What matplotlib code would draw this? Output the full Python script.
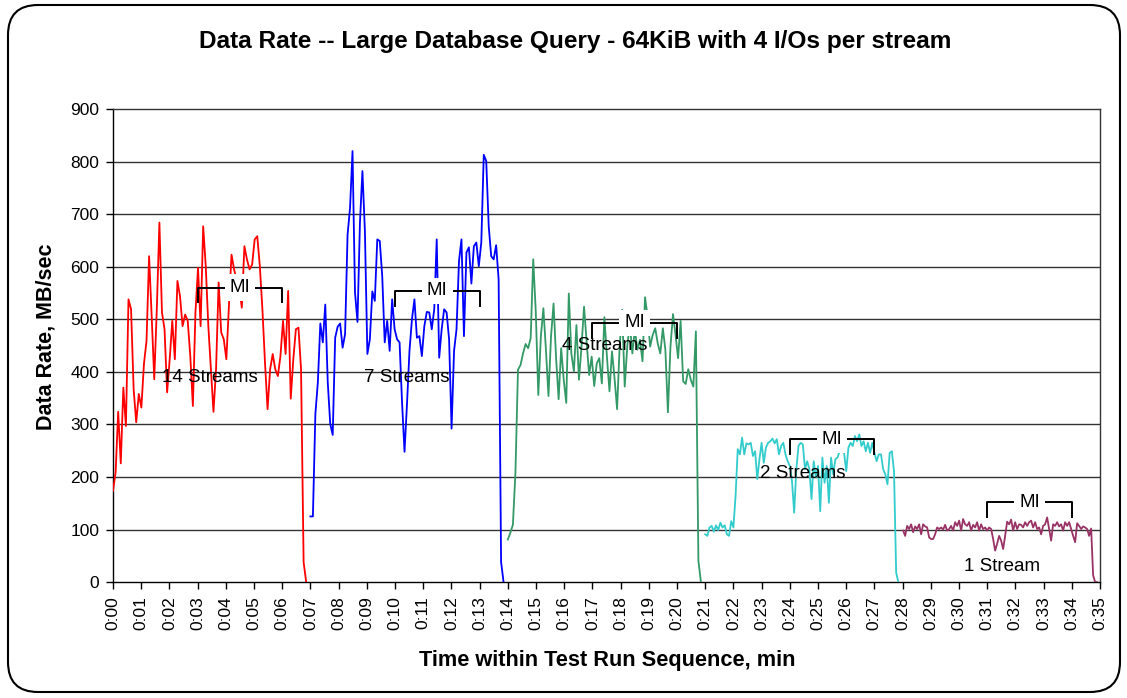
import numpy as np
import matplotlib.pyplot as plt
from matplotlib.patches import FancyBboxPatch

plt.rcParams['font.family'] = ['Liberation Sans', 'DejaVu Sans']

# data rate samples (MB/sec) for each run, sampled evenly between start and end minute
red_vals = [174, 209, 324, 226, 370, 297, 538, 519, 367, 304, 358, 332, 415, 459, 620, 506, 386, 520,
            684, 513, 481, 361, 424, 497, 424, 573, 544, 487, 509, 497, 430, 335, 513, 598, 487, 677,
            601, 487, 405, 324, 405, 570, 475, 462, 424, 525, 623, 595, 575, 560, 522, 639, 614, 595,
            604, 652, 658, 601, 519, 418, 329, 405, 434, 405, 392, 430, 497, 434, 554, 349, 424, 481,
            484, 405, 38, 0]
blue_vals = [125, 125, 320, 380, 492, 456, 528, 380, 301, 280, 465, 486, 492, 446, 472, 661, 712, 820,
             551, 495, 684, 782, 668, 434, 462, 553, 535, 652, 649, 582, 456, 497, 440, 538, 481, 462,
             456, 342, 248, 339, 440, 500, 538, 465, 468, 430, 487, 514, 513, 481, 519, 652, 427, 481,
             519, 513, 462, 292, 440, 481, 611, 652, 468, 627, 637, 568, 639, 646, 601, 646, 813, 801,
             677, 620, 614, 641, 576, 38, 0]
green_vals = [81, 94, 109, 208, 404, 413, 435, 453, 445, 464, 614, 515, 356, 467, 521, 442, 354, 467,
              530, 426, 348, 445, 385, 341, 549, 435, 401, 489, 385, 448, 524, 458, 394, 429, 373, 416,
              426, 378, 504, 429, 363, 439, 388, 329, 448, 518, 372, 448, 492, 435, 480, 442, 461, 420,
              542, 505, 448, 470, 483, 454, 435, 483, 442, 323, 448, 510, 470, 426, 497, 382, 377, 405,
              385, 372, 477, 40, 0]
cyan_vals = [91, 88, 104, 107, 96, 108, 99, 113, 104, 108, 91, 88, 116, 104, 164, 253, 243, 275, 243,
             264, 262, 265, 240, 249, 196, 234, 265, 227, 256, 265, 268, 273, 264, 272, 243, 259, 265,
             243, 230, 221, 192, 132, 215, 259, 265, 262, 215, 230, 215, 158, 230, 199, 221, 135, 237,
             189, 221, 151, 237, 205, 234, 237, 250, 265, 246, 211, 256, 265, 259, 278, 268, 281, 259,
             268, 249, 265, 246, 265, 246, 230, 243, 243, 215, 205, 186, 246, 249, 211, 18, 0]
purple_vals = [98, 88, 107, 101, 110, 95, 106, 101, 110, 91, 110, 106, 104, 85, 82, 82, 91, 104, 101,
               104, 100, 109, 98, 101, 107, 98, 114, 107, 117, 98, 120, 110, 107, 114, 98, 109, 104,
               114, 98, 110, 101, 104, 98, 104, 101, 82, 60, 73, 88, 79, 63, 88, 115, 110, 119, 98,
               114, 101, 110, 109, 104, 114, 107, 114, 117, 104, 114, 101, 104, 91, 107, 110, 123, 101,
               79, 110, 107, 114, 106, 110, 98, 114, 107, 114, 101, 88, 76, 112, 107, 101, 106, 104,
               101, 88, 102, 13, 0, 0]

series = [
    (red_vals, 0.0, 6.85, '#FF0000'),
    (blue_vals, 7.0, 13.85, '#0000FF'),
    (green_vals, 14.0, 20.85, '#339966'),
    (cyan_vals, 21.0, 27.85, '#33CCCC'),
    (purple_vals, 28.02, 34.9, '#993366'),
]

stream_labels = ['14 Streams', '7 Streams', '4 Streams', '2 Streams', '1 Stream']
label_x = [3.45, 10.43, 17.45, 24.47, 31.53]
label_y = [389, 389, 451, 206, 30]

# measurement interval brackets: start, end, height
mi_start = [3, 10, 17, 24, 31]
mi_end = [6, 13, 20, 27, 34]
mi_level = [560, 554, 493, 272, 152]

fig = plt.figure(figsize=(11.27, 6.98), dpi=100)
ax = fig.add_axes([0.1003, 0.166, 0.8757, 0.6778])

for vals, t0, t1, col in series:
    t = np.linspace(t0, t1, len(vals))
    ax.plot(t, vals, color=col, lw=1.3, zorder=3)

for name, x, y in zip(stream_labels, label_x, label_y):
    ax.text(x, y, name, ha='center', va='center', fontsize=13.5, zorder=4)

for a, b, h in zip(mi_start, mi_end, mi_level):
    ax.plot([a, a, b, b], [h - 28, h, h, h - 28], color='black', lw=1.4, zorder=5)
    ax.text((a + b) / 2, h, 'MI', ha='center', va='center', fontsize=13.5, zorder=6,
            bbox=dict(facecolor='white', edgecolor='none', pad=3.5))

ax.set_xlim(0, 35)
ax.set_ylim(0, 900)
ax.set_yticks(range(0, 1000, 100))
ax.set_xticks(range(0, 36))
ax.set_xticklabels(['0:%02d' % m for m in range(0, 36)], rotation=90)
ax.tick_params(axis='both', direction='out', length=5, width=1, labelsize=12.5, pad=5)
for y in range(100, 900, 100):
    ax.axhline(y, color='#333333', lw=1, zorder=1)
for s in ax.spines.values():
    s.set_linewidth(1)
    s.set_color('black')
ax.spines['top'].set_color('#333333')
ax.spines['right'].set_color('#333333')

fig.text(0.51, 0.94, 'Data Rate -- Large Database Query - 64KiB with 4 I/Os per stream',
         ha='center', va='center', fontsize=17.6, fontweight='bold')
fig.text(0.539, 0.054, 'Time within Test Run Sequence, min', ha='center', va='center',
         fontsize=15.7, fontweight='bold')
fig.text(0.0405, 0.517, 'Data Rate, MB/sec', ha='center', va='center', rotation=90,
         fontsize=15.5, fontweight='bold')

frame = FancyBboxPatch((0.08, 0.06), 11.12, 6.87, boxstyle='round,pad=0,rounding_size=0.3',
                       transform=fig.dpi_scale_trans, facecolor='none', edgecolor='black', lw=1.5)
fig.add_artist(frame)

fig.savefig('out.png', dpi=100)
